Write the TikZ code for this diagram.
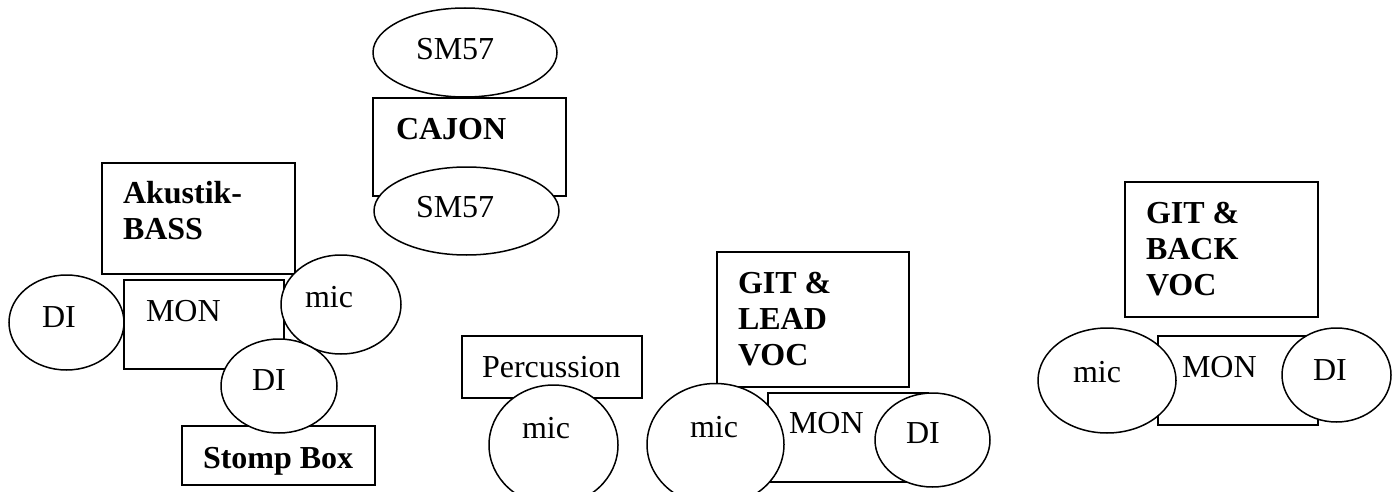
\documentclass[tikz,border=0pt]{standalone}
\usepackage{fontspec}
\setmainfont{Liberation Serif}
\usetikzlibrary{shapes.geometric}
\tikzset{
  shp/.style={draw, line width=0.75pt, fill=white, inner sep=0pt, outer sep=0pt},
  rbox/.style={shp, rectangle},
  ell/.style={shp, ellipse},
  lbl/.style={anchor=base west, inner sep=0pt, outer sep=0pt, font=\fontsize{16}{18}\selectfont},
  blbl/.style={lbl, font=\fontsize{16}{18}\selectfont\bfseries}
}
\begin{document}
\begin{tikzpicture}[x=0.5pt, y=-0.5pt]
\useasboundingbox (0,0) rectangle (1397,492);
% CAJON group
\node[ell, minimum width=92pt, minimum height=44.5pt] (sm1) at (465,52.5) {};
\node[rbox, minimum width=96.5pt, minimum height=49pt] (cajon) at (469.5,147) {};
\node[ell, minimum width=92.5pt, minimum height=44pt] (sm2) at (466.5,211) {};
% Akustik-BASS group
\node[rbox, minimum width=96.5pt, minimum height=55.5pt] (akus) at (198.5,218.5) {};
\node[rbox, minimum width=80pt, minimum height=44.5pt] (akmon) at (204,324.5) {};
\node[ell, minimum width=57.5pt, minimum height=47.5pt] (akdia) at (66.5,322.5) {};
\node[ell, minimum width=60pt, minimum height=49.5pt] (akmic) at (341,304.5) {};
\node[rbox, minimum width=96.5pt, minimum height=29.5pt] (stomp) at (278.5,455.5) {};
\node[ell, minimum width=58pt, minimum height=47pt] (akdib) at (279,386) {};
% Percussion
\node[rbox, minimum width=90pt, minimum height=31pt] (perc) at (552,367) {};
\node[ell, minimum width=64.5pt, minimum height=60pt] (percmic) at (553.5,445) {};
% GIT & LEAD VOC
\node[rbox, minimum width=96pt, minimum height=67.5pt] (lead) at (813,319.5) {};
\node[rbox, minimum width=80pt, minimum height=44.5pt] (leadmon) at (848,437.5) {};
\node[ell, minimum width=68.5pt, minimum height=61pt] (leadmic) at (715.5,444.5) {};
\node[ell, minimum width=57.5pt, minimum height=47pt] (leaddi) at (932.5,440) {};
% GIT & BACK VOC
\node[rbox, minimum width=96.5pt, minimum height=67.5pt] (back) at (1221.5,249.5) {};
\node[rbox, minimum width=80pt, minimum height=44.5pt] (backmon) at (1238,380.5) {};
\node[ell, minimum width=69pt, minimum height=52.5pt] (backmic) at (1107,380.5) {};
\node[ell, minimum width=54.5pt, minimum height=47pt] (backdi) at (1336.5,375) {};
% Labels
\node[lbl] (tsma) at (416,60) {SM57};
\node[blbl] (tcajon) at (396,140) {CAJON};
\node[lbl] (tsmb) at (416,217) {SM57};
\node[blbl] (takus) at (123,203) {\vtop{\hbox{Akustik-}\hbox{BASS}}};
\node[lbl] (takmon) at (146,321) {MON};
\node[lbl] (takdia) at (42,327) {DI};
\node[lbl] (takmic) at (305,307) {mic};
\node[lbl] (takdib) at (252,390) {DI};
\node[blbl] (tstomp) at (203,468) {Stomp Box};
\node[lbl] (tperc) at (482,377) {Percussion};
\node[lbl] (tpercmic) at (522,438) {mic};
\node[blbl] (tlead) at (738,293) {\vtop{\hbox{GIT \&}\hbox{LEAD}\hbox{VOC}}};
\node[lbl] (tleadmic) at (690,437) {mic};
\node[lbl] (tleadmon) at (789,433) {MON};
\node[lbl] (tleaddi) at (906,443) {DI};
\node[blbl] (tback) at (1146,223) {\vtop{\hbox{GIT \&}\hbox{BACK}\hbox{VOC}}};
\node[lbl] (tbackmic) at (1073,382) {mic};
\node[lbl] (tbackmon) at (1182,377) {MON};
\node[lbl] (tbackdi) at (1313,380) {DI};
\end{tikzpicture}
\end{document}
